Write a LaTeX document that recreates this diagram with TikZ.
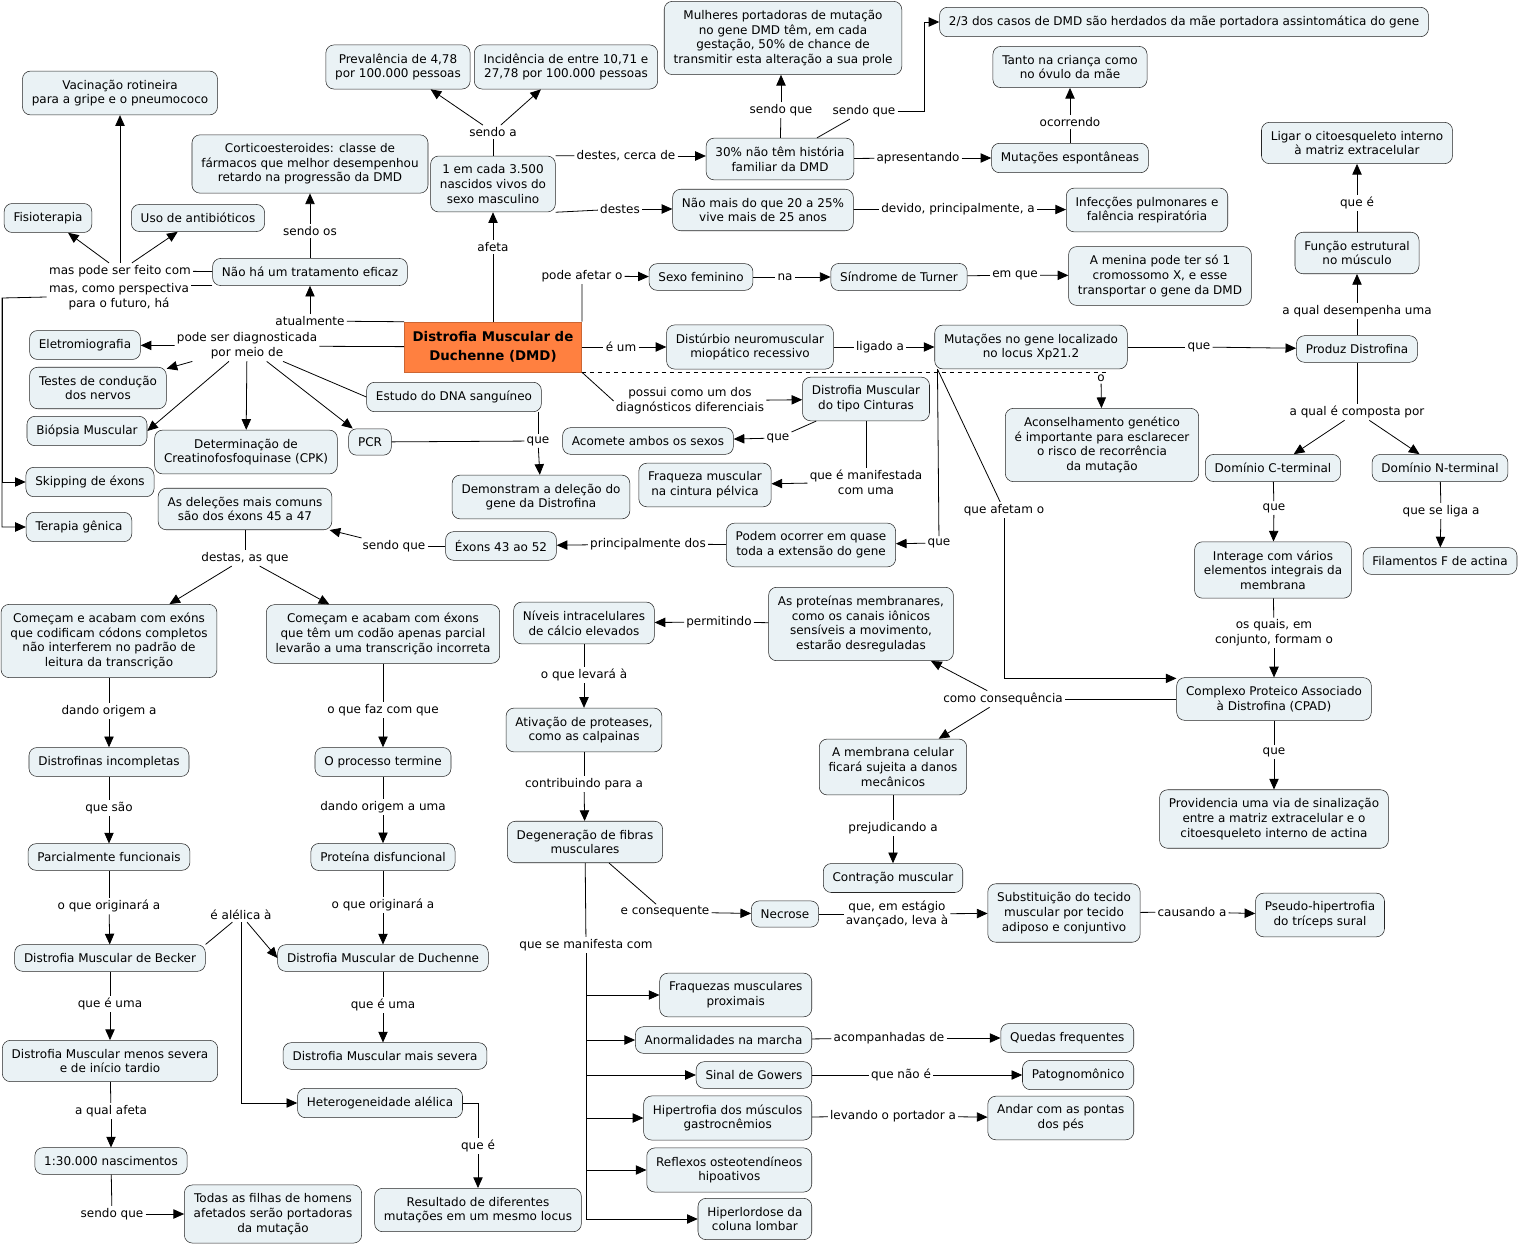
\documentclass[tikz,border=0pt]{standalone}
\usepackage{fontspec}
\setmainfont{DejaVu Sans}
\usetikzlibrary{arrows.meta,calc}

\definecolor{cmapfill}{RGB}{234,242,245}
\definecolor{dmdorange}{RGB}{255,128,64}
\newcommand{\cmapfont}{\fontsize{9}{11}\selectfont}

\tikzset{
  concept/.style={draw=black!85, rounded corners=6pt, fill=cmapfill, align=center,
    inner xsep=7pt, inner ysep=6.5pt, font=\cmapfont},
  central/.style={draw=dmdorange!80!black, fill=dmdorange, align=center,
    font=\fontsize{10}{14.5}\selectfont\bfseries, minimum width=133pt, minimum height=37.5pt},
  phrase/.style={inner sep=1.5pt, align=center, font=\cmapfont},
  link/.style={line width=0.6pt},
  arrowlink/.style={line width=0.6pt, -{Triangle[length=8pt,width=7pt]}},
}

\begin{document}
\begin{tikzpicture}[x=0.75pt, y=-0.75pt]
    \useasboundingbox (0,0) rectangle (1521,1248);

    % Central concept
    \node (dmd) at (493,347) [central] {Distrofia Muscular de\\Duchenne (DMD)};

    % Concepts, upper part
    \node (nasc) at (493,184) [concept] {1 em cada 3.500\\nascidos vivos do\\sexo masculino};
    \node (preval) at (398,67) [concept] {Prevalência de 4,78\\por 100.000 pessoas};
    \node (incid) at (566,67) [concept] {Incidência de entre 10,71 e\\27,78 por 100.000 pessoas};
    \node (mulheres) at (783,38) [concept] {Mulheres portadoras de mutação\\no gene DMD têm, em cada\\gestação, 50\% de chance de\\transmitir esta alteração a sua prole};
    \node (herd) at (1184,22) [concept] {2/3 dos casos de DMD são herdados da mãe portadora assintomática do gene};
    \node (tanto) at (1070,67) [concept] {Tanto na criança como\\no óvulo da mãe};
    \node (hist) at (780,159) [concept] {30\% não têm história\\familiar da DMD};
    \node (espont) at (1070,158) [concept] {Mutações espontâneas};
    \node (vive) at (763,210) [concept] {Não mais do que 20 a 25\%\\vive mais de 25 anos};
    \node (infec) at (1147,210) [concept] {Infecções pulmonares e\\falência respiratória};
    \node (sexfem) at (701,277) [concept] {Sexo feminino};
    \node (turner) at (899,277) [concept] {Síndrome de Turner};
    \node (menina) at (1160,276) [concept] {A menina pode ter só 1\\cromossomo X, e esse\\transportar o gene da DMD};

    % Concepts, right part
    \node (ligar) at (1357,143) [concept] {Ligar o citoesqueleto interno\\à matriz extracelular};
    \node (funcao) at (1357,253) [concept] {Função estrutural\\no músculo};
    \node (produz) at (1357,349) [concept] {Produz Distrofina};
    \node (disturb) at (750,347) [concept] {Distúrbio neuromuscular\\miopático recessivo};
    \node (locus) at (1031,347) [concept] {Mutações no gene localizado\\no locus Xp21.2};
    \node (aconselh) at (1102,445) [concept] {Aconselhamento genético\\é importante para esclarecer\\o risco de recorrência\\da mutação};
    \node (cterm) at (1273,468) [concept] {Domínio C-terminal};
    \node (nterm) at (1440,468) [concept] {Domínio N-terminal};
    \node (interage) at (1273,570) [concept] {Interage com vários\\elementos integrais da\\membrana};
    \node (actina) at (1440,561) [concept] {Filamentos F de actina};
    \node (cpad) at (1274,699) [concept] {Complexo Proteico Associado\\à Distrofina (CPAD)};
    \node (provid) at (1274,819) [concept] {Providencia uma via de sinalização\\entre a matriz extracelular e o\\citoesqueleto interno de actina};

    % Concepts, middle part
    \node (cintura) at (866,399) [concept] {Distrofia Muscular\\do tipo Cinturas};
    \node (ambos) at (648,441) [concept] {Acomete ambos os sexos};
    \node (fraqpelv) at (705,485) [concept] {Fraqueza muscular\\na cintura pélvica};
    \node (podem) at (811,545) [concept] {Podem ocorrer em quase\\toda a extensão do gene};
    \node (ex4352) at (501,546) [concept] {Éxons 43 ao 52};
    \node (demonst) at (541,497) [concept] {Demonstram a deleção do\\gene da Distrofina};
    \node (dna) at (454,397) [concept] {Estudo do DNA sanguíneo};
    \node (pcr) at (370,442) [concept] {PCR};
    \node (cpk) at (246,452) [concept] {Determinação de\\Creatinofosfoquinase (CPK)};

    % Concepts, left part
    \node (eletro) at (85,345) [concept] {Eletromiografia};
    \node (testes) at (98,388) [concept] {Testes de condução\\dos nervos};
    \node (biopsia) at (87,431) [concept] {Biópsia Muscular};
    \node (skip) at (90,482) [concept] {Skipping de éxons};
    \node (terapia) at (79,527) [concept] {Terapia gênica};
    \node (del4547) at (245,509) [concept] {As deleções mais comuns\\são dos éxons 45 a 47};
    \node (semtrat) at (310,272) [concept] {Não há um tratamento eficaz};
    \node (cortico) at (310,164) [concept] {Corticoesteroides: classe de\\fármacos que melhor desempenhou\\retardo na progressão da DMD};
    \node (vacina) at (120,93) [concept] {Vacinação rotineira\\para a gripe e o pneumococo};
    \node (fisio) at (48,218) [concept] {Fisioterapia};
    \node (antib) at (198,218) [concept] {Uso de antibióticos};

    % Concepts, lower left
    \node (exfull) at (109,641) [concept] {Começam e acabam com exóns\\que codificam códons completos\\não interferem no padrão de\\leitura da transcrição};
    \node (expart) at (383,634) [concept] {Começam e acabam com éxons\\que têm um codão apenas parcial\\levarão a uma transcrição incorreta};
    \node (incomp) at (109,762) [concept] {Distrofinas incompletas};
    \node (termine) at (383,762) [concept] {O processo termine};
    \node (parcfunc) at (109,857) [concept] {Parcialmente funcionais};
    \node (disfunc) at (383,857) [concept] {Proteína disfuncional};
    \node (becker) at (110,958) [concept] {Distrofia Muscular de Becker};
    \node (duchenne) at (383,958) [concept] {Distrofia Muscular de Duchenne};
    \node (menos) at (110,1061) [concept] {Distrofia Muscular menos severa\\e de início tardio};
    \node (mais) at (385,1056) [concept] {Distrofia Muscular mais severa};
    \node (hetero) at (380,1103) [concept] {Heterogeneidade alélica};
    \node (nasc30) at (111,1161) [concept] {1:30.000 nascimentos};
    \node (filhas) at (273,1214) [concept] {Todas as filhas de homens\\afetados serão portadoras\\da mutação};
    \node (result) at (478,1210) [concept] {Resultado de diferentes\\mutações em um mesmo locus};

    % Concepts, lower middle and right
    \node (calcio) at (584,623) [concept] {Níveis intracelulares\\de cálcio elevados};
    \node (canais) at (861,624) [concept] {As proteínas membranares,\\como os canais iônicos\\sensíveis a movimento,\\estarão desreguladas};
    \node (proteases) at (584,730) [concept] {Ativação de proteases,\\como as calpainas};
    \node (degen) at (585,842) [concept] {Degeneração de fibras\\musculares};
    \node (membrana) at (893,767) [concept] {A membrana celular\\ficará sujeita a danos\\mecânicos};
    \node (contracao) at (893,878) [concept] {Contração muscular};
    \node (necrose) at (785,914) [concept] {Necrose};
    \node (substit) at (1064,913) [concept] {Substituição do tecido\\muscular por tecido\\adiposo e conjuntivo};
    \node (pseudo) at (1320,915) [concept] {Pseudo-hipertrofia\\do tríceps sural};
    \node (fraqprox) at (812,995) [concept, anchor=east] {Fraquezas musculares\\proximais};
    \node (marcha) at (812,1040) [concept, anchor=east] {Anormalidades na marcha};
    \node (quedas) at (1134,1038) [concept, anchor=east] {Quedas frequentes};
    \node (gowers) at (812,1075) [concept, anchor=east] {Sinal de Gowers};
    \node (patog) at (1134,1075) [concept, anchor=east] {Patognomônico};
    \node (hipertrof) at (812,1118) [concept, anchor=east] {Hipertrofia dos músculos\\gastrocnêmios};
    \node (pontas) at (1134,1118) [concept, anchor=east] {Andar com as pontas\\dos pés};
    \node (reflexos) at (812,1170) [concept, anchor=east] {Reflexos osteotendíneos\\hipoativos};
    \node (hiperlord) at (812,1219) [concept, anchor=east] {Hiperlordose da\\coluna lombar};

    % Linking phrases
    \node (pSendoA) at (493,132) [phrase] {sendo a};
    \node (pAfeta) at (493,247) [phrase] {afeta};
    \node (pCercaDe) at (626,156) [phrase] {destes, cerca de};
    \node (pDestes) at (620,209) [phrase] {destes};
    \node (pSendoQue1) at (781,110) [phrase] {sendo que};
    \node (pSendoQue2) at (864,111) [phrase] {sendo que};
    \node (pApres) at (918,158) [phrase] {apresentando};
    \node (pOcorr) at (1070,122) [phrase] {ocorrendo};
    \node (pDevido) at (958,209) [phrase] {devido, principalmente, a};
    \node (pPodeAfetar) at (582,276) [phrase] {pode afetar o};
    \node (pNa) at (785,277) [phrase] {na};
    \node (pEmQue) at (1015,275) [phrase] {em que};
    \node (pEUm) at (621,347) [phrase] {é um};
    \node (pLigado) at (880,347) [phrase] {ligado a};
    \node (pQueProduz) at (1199,347) [phrase] {que};
    \node (pDesempenha) at (1357,311) [phrase] {a qual desempenha uma};
    \node (pQueE) at (1357,203) [phrase] {que é};
    \node (pComposta) at (1357,412) [phrase] {a qual é composta por};
    \node (pQueInterage) at (1274,508) [phrase] {que};
    \node (pSeLiga) at (1441,511) [phrase] {que se liga a};
    \node (pFormam) at (1274,633) [phrase] {os quais, em\\conjunto, formam o};
    \node (pQueProv) at (1274,752) [phrase] {que};
    \node (pO) at (1101,378) [phrase] {o};
    \node (pAfetam) at (1004,510) [phrase] {que afetam o};
    \node (pQuePodem) at (939,543) [phrase] {que};
    \node (pPossui) at (690,401) [phrase] {possui como um dos\\diagnósticos diferenciais};
    \node (pQueAmbos) at (778,438) [phrase] {que};
    \node (pManif) at (866,482) [phrase] {que é manifestada\\com uma};
    \node (pPrincip) at (648,544) [phrase] {principalmente dos};
    \node (pSendoQue3) at (394,546) [phrase] {sendo que};
    \node (pQuePcr) at (538,441) [phrase] {que};
    \node (pDiag) at (247,346) [phrase] {pode ser diagnosticada\\por meio de};
    \node (pAtual) at (310,321) [phrase] {atualmente};
    \node (pSendoOs) at (310,231) [phrase] {sendo os};
    \node (pFeito) at (120,271) [phrase] {mas pode ser feito com};
    \node (pPersp) at (119,297) [phrase] {mas, como perspectiva\\para o futuro, há};
    \node (pDestas) at (245,558) [phrase] {destas, as que};
    \node (pDandoA) at (109,711) [phrase] {dando origem a};
    \node (pQueSao) at (109,808) [phrase] {que são};
    \node (pOrigA) at (109,906) [phrase] {o que originará a};
    \node (pQueEUma1) at (110,1004) [phrase] {que é uma};
    \node (pAfeta2) at (111,1111) [phrase] {a qual afeta};
    \node (pSendoQue4) at (112,1214) [phrase] {sendo que};
    \node (pAlelica) at (241,915) [phrase] {é alélica à};
    \node (pFazCom) at (383,710) [phrase] {o que faz com que};
    \node (pDandoUma) at (383,807) [phrase] {dando origem a uma};
    \node (pOrigA2) at (383,905) [phrase] {o que originará a};
    \node (pQueEUma2) at (383,1005) [phrase] {que é uma};
    \node (pQueE2) at (478,1146) [phrase] {que é};
    \node (pPermit) at (719,622) [phrase] {permitindo};
    \node (pLevara) at (584,675) [phrase] {o que levará à};
    \node (pContrib) at (584,784) [phrase] {contribuindo para a};
    \node (pConseq) at (1003,699) [phrase] {como consequência};
    \node (pPrejud) at (893,828) [phrase] {prejudicando a};
    \node (pEConseq) at (665,912) [phrase] {e consequente};
    \node (pEstagio) at (897,914) [phrase] {que, em estágio\\avançado, leva à};
    \node (pCausando) at (1192,912) [phrase] {causando a};
    \node (pManifCom) at (586,945) [phrase] {que se manifesta com};
    \node (pAcomp) at (889,1038) [phrase] {acompanhadas de};
    \node (pNaoE) at (901,1075) [phrase] {que não é};
    \node (pLevando) at (893,1116) [phrase] {levando o portador a};

    % Upper links
    \draw[link] (nasc) -- (pSendoA);
    \draw[arrowlink] (pSendoA) -- (preval);
    \draw[arrowlink] (pSendoA) -- (incid);
    \draw[link] (dmd) -- (pAfeta);
    \draw[arrowlink] (pAfeta) -- (nasc);
    \draw[link] (nasc.north east) -- (pCercaDe);
    \draw[arrowlink] (pCercaDe) -- (pCercaDe -| hist.west);
    \draw[link] (nasc.south east) -- (pDestes);
    \draw[arrowlink] (pDestes) -- (pDestes -| vive.west);
    \draw[link] (hist) -- (pSendoQue1);
    \draw[arrowlink] (pSendoQue1) -- (pSendoQue1 |- mulheres.south);
    \draw[link] (hist) -- (pSendoQue2);
    \draw[arrowlink] (pSendoQue2.east) -- ++(27,0) |- (herd.west);
    \draw[link] (hist) -- (pApres);
    \draw[arrowlink] (pApres) -- (espont);
    \draw[link] (espont) -- (pOcorr);
    \draw[arrowlink] (pOcorr) -- (tanto);
    \draw[link] (vive) -- (pDevido);
    \draw[arrowlink] (pDevido) -- (infec);
    \draw[link] (dmd.north east) -- (pPodeAfetar);
    \draw[arrowlink] (pPodeAfetar) -- (sexfem);
    \draw[link] (sexfem) -- (pNa);
    \draw[arrowlink] (pNa) -- (turner);
    \draw[link] (turner) -- (pEmQue);
    \draw[arrowlink] (pEmQue) -- (menina);

    % Right links
    \draw[link] (dmd) -- (pEUm);
    \draw[arrowlink] (pEUm) -- (disturb);
    \draw[link] (disturb) -- (pLigado);
    \draw[arrowlink] (pLigado) -- (locus);
    \draw[link] (locus) -- (pQueProduz);
    \draw[arrowlink] (pQueProduz) -- (produz);
    \draw[link] (produz) -- (pDesempenha);
    \draw[arrowlink] (pDesempenha) -- (funcao);
    \draw[link] (funcao) -- (pQueE);
    \draw[arrowlink] (pQueE) -- (ligar);
    \draw[link] (produz) -- (pComposta);
    \draw[arrowlink] (pComposta) -- (cterm);
    \draw[arrowlink] (pComposta) -- (nterm);
    \draw[link] (cterm) -- (pQueInterage);
    \draw[arrowlink] (pQueInterage) -- (interage);
    \draw[link] (nterm) -- (pSeLiga);
    \draw[arrowlink] (pSeLiga) -- (actina);
    \draw[link] (interage) -- (pFormam);
    \draw[arrowlink] (pFormam) -- (cpad);
    \draw[link] (cpad) -- (pQueProv);
    \draw[arrowlink] (pQueProv) -- (provid);
    \draw[link, dashed] (dmd.south east) -- (dmd.south east -| pO.north east);
    \draw[arrowlink] (pO) -- (aconselh);
    \coordinate (locusfoot) at ($(locus.south west)+(3,0)$);
    \draw[link] (locusfoot) -- (pAfetam);
    \draw[arrowlink] (pAfetam) |- ($(cpad.north west)+(0,1)$);
    \draw[link] (locusfoot) -- (pQuePodem);
    \draw[arrowlink] (pQuePodem) -- (podem);

    % Differential diagnosis and deletions
    \draw[link] (dmd.south east) -- (pPossui.west);
    \draw[arrowlink] (pPossui) -- (cintura);
    \draw[link] (cintura) -- (pQueAmbos);
    \draw[arrowlink] (pQueAmbos) -- (ambos);
    \draw[link] (cintura) -- (pManif);
    \draw[arrowlink] (pManif) -- (fraqpelv);
    \draw[link] (podem) -- (pPrincip);
    \draw[arrowlink] (pPrincip) -- (ex4352);
    \draw[link] (ex4352) -- (pSendoQue3);
    \draw[arrowlink] (pSendoQue3) -- (del4547);
    \draw[link] (pQuePcr |- dna.south) -- (pQuePcr);
    \draw[link] (pcr) -- (pQuePcr);
    \draw[arrowlink] (pQuePcr) -- (demonst);

    % Diagnosis and treatment
    \draw[link] (dmd) -- (pDiag);
    \draw[arrowlink] (pDiag) -- (eletro);
    \draw[arrowlink] (pDiag) -- (testes);
    \draw[arrowlink] (pDiag) -- (biopsia.east);
    \draw[arrowlink] (pDiag) -- (cpk);
    \draw[arrowlink] (pDiag) -- (pcr);
    \draw[link] (pDiag) -- (dna.west);
    \draw[link] (dmd.north west) -- (pAtual);
    \draw[arrowlink] (pAtual) -- (semtrat);
    \draw[link] (semtrat) -- (pSendoOs);
    \draw[arrowlink] (pSendoOs) -- (cortico);
    \draw[link] (semtrat) -- (pFeito);
    \draw[arrowlink] (pFeito) -- (vacina);
    \draw[arrowlink] (pFeito) -- (fisio);
    \draw[arrowlink] (pFeito) -- (antib);
    \draw[link] (semtrat.south west) -- (semtrat.south west -| pPersp.east);
    \coordinate (perspfoot) at (2,298);
    \draw[arrowlink] (pPersp.west) -- (perspfoot) |- (terapia);
    \draw[arrowlink] (perspfoot) |- (skip);

    % Exon deletions, lower left
    \draw[link] (del4547) -- (pDestas);
    \draw[arrowlink] (pDestas) -- (exfull);
    \draw[arrowlink] (pDestas) -- (expart);
    \draw[link] (exfull) -- (pDandoA);
    \draw[arrowlink] (pDandoA) -- (incomp);
    \draw[link] (incomp) -- (pQueSao);
    \draw[arrowlink] (pQueSao) -- (parcfunc);
    \draw[link] (parcfunc) -- (pOrigA);
    \draw[arrowlink] (pOrigA) -- (becker);
    \draw[link] (becker) -- (pQueEUma1);
    \draw[arrowlink] (pQueEUma1) -- (menos);
    \draw[link] (menos) -- (pAfeta2);
    \draw[arrowlink] (pAfeta2) -- (nasc30);
    \draw[link] (nasc30) -- (pSendoQue4);
    \draw[arrowlink] (pSendoQue4) -- (filhas);
    \draw[link] (becker.north east) -- (pAlelica);
    \draw[arrowlink] (pAlelica) -- (duchenne.west);
    \draw[arrowlink] (pAlelica) |- (hetero);
    \draw[link] (expart) -- (pFazCom);
    \draw[arrowlink] (pFazCom) -- (termine);
    \draw[link] (termine) -- (pDandoUma);
    \draw[arrowlink] (pDandoUma) -- (disfunc);
    \draw[link] (disfunc) -- (pOrigA2);
    \draw[arrowlink] (pOrigA2) -- (duchenne);
    \draw[link] (duchenne) -- (pQueEUma2);
    \draw[arrowlink] (pQueEUma2) -- (pQueEUma2 |- mais.north);
    \draw[link] (hetero) -| (pQueE2);
    \draw[arrowlink] (pQueE2) -- (result);

    % Pathophysiology
    \draw[link] (canais) -- (pPermit);
    \draw[arrowlink] (pPermit) -- (calcio);
    \draw[link] (calcio) -- (pLevara);
    \draw[arrowlink] (pLevara) -- (proteases);
    \draw[link] (proteases) -- (pContrib);
    \draw[arrowlink] (pContrib) -- (degen);
    \draw[link] (cpad) -- (pConseq);
    \draw[arrowlink] (pConseq) -- (canais);
    \draw[arrowlink] (pConseq) -- (membrana);
    \draw[link] (membrana) -- (pPrejud);
    \draw[arrowlink] (pPrejud) -- (contracao);
    \draw[link] (degen) -- (pEConseq);
    \draw[arrowlink] (pEConseq) -- (necrose);
    \draw[link] (necrose) -- (pEstagio);
    \draw[arrowlink] (pEstagio) -- (substit);
    \draw[link] (substit) -- (pCausando);
    \draw[arrowlink] (pCausando) -- (pseudo);

    % Clinical signs
    \draw[link] (degen) -- (pManifCom);
    \foreach \sign in {fraqprox,marcha,gowers,hipertrof,reflexos,hiperlord}
        \draw[arrowlink] (pManifCom) |- (\sign);
    \draw[link] (marcha) -- (pAcomp);
    \draw[arrowlink] (pAcomp) -- (quedas);
    \draw[link] (gowers) -- (pNaoE);
    \draw[arrowlink] (pNaoE) -- (patog);
    \draw[link] (hipertrof) -- (pLevando);
    \draw[arrowlink] (pLevando) -- (pontas);
\end{tikzpicture}
\end{document}
